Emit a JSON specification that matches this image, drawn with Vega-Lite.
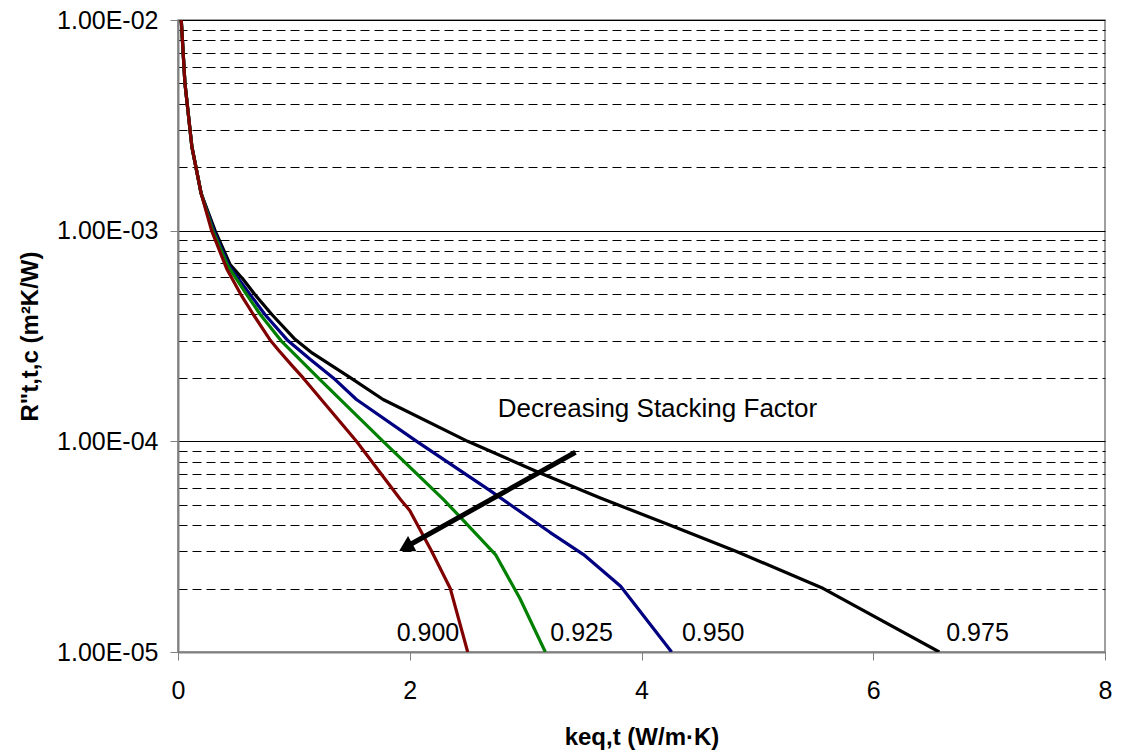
{
  "$schema": "https://vega.github.io/schema/vega-lite/v6.json",
  "width": 927,
  "height": 632,
  "autosize": {"type": "none"},
  "padding": {"left": 178, "top": 20, "right": 20, "bottom": 103},
  "background": "white",
  "config": {
    "font": "Liberation Sans",
    "view": {"stroke": "#808080", "strokeWidth": 1.5}
  },
  "datasets": {
    "curves": [
      {"series": "0.975", "k": 0.028, "R": 0.01},
      {"series": "0.975", "k": 0.06, "R": 0.005},
      {"series": "0.975", "k": 0.12, "R": 0.0025},
      {"series": "0.975", "k": 0.2, "R": 0.0015},
      {"series": "0.975", "k": 0.32, "R": 0.001},
      {"series": "0.975", "k": 0.45, "R": 0.00069},
      {"series": "0.975", "k": 0.56, "R": 0.00059},
      {"series": "0.975", "k": 0.66, "R": 0.0005},
      {"series": "0.975", "k": 0.81, "R": 0.0004},
      {"series": "0.975", "k": 1.01, "R": 0.000305},
      {"series": "0.975", "k": 1.16, "R": 0.000262},
      {"series": "0.975", "k": 1.49, "R": 0.0002},
      {"series": "0.975", "k": 1.77, "R": 0.000158},
      {"series": "0.975", "k": 2.5, "R": 0.0001},
      {"series": "0.975", "k": 3.12, "R": 0.000071},
      {"series": "0.975", "k": 3.64, "R": 0.000054},
      {"series": "0.975", "k": 4.27, "R": 0.0000395},
      {"series": "0.975", "k": 4.82, "R": 0.00003},
      {"series": "0.975", "k": 5.57, "R": 0.00002},
      {"series": "0.975", "k": 6.57, "R": 0.00001},
      {"series": "0.950", "k": 0.028, "R": 0.01},
      {"series": "0.950", "k": 0.06, "R": 0.005},
      {"series": "0.950", "k": 0.12, "R": 0.0025},
      {"series": "0.950", "k": 0.2, "R": 0.0015},
      {"series": "0.950", "k": 0.31, "R": 0.001},
      {"series": "0.950", "k": 0.44, "R": 0.00068},
      {"series": "0.950", "k": 0.62, "R": 0.0005},
      {"series": "0.950", "k": 0.75, "R": 0.0004},
      {"series": "0.950", "k": 0.95, "R": 0.0003},
      {"series": "0.950", "k": 1.14, "R": 0.000245},
      {"series": "0.950", "k": 1.34, "R": 0.0002},
      {"series": "0.950", "k": 1.54, "R": 0.000158},
      {"series": "0.950", "k": 2.06, "R": 0.0001},
      {"series": "0.950", "k": 2.7, "R": 0.000058},
      {"series": "0.950", "k": 3.21, "R": 0.000037},
      {"series": "0.950", "k": 3.5, "R": 0.000029},
      {"series": "0.950", "k": 3.82, "R": 0.0000205},
      {"series": "0.950", "k": 4.26, "R": 0.00001},
      {"series": "0.925", "k": 0.028, "R": 0.01},
      {"series": "0.925", "k": 0.06, "R": 0.005},
      {"series": "0.925", "k": 0.12, "R": 0.0025},
      {"series": "0.925", "k": 0.2, "R": 0.0015},
      {"series": "0.925", "k": 0.3, "R": 0.001},
      {"series": "0.925", "k": 0.43, "R": 0.00068},
      {"series": "0.925", "k": 0.59, "R": 0.0005},
      {"series": "0.925", "k": 0.71, "R": 0.0004},
      {"series": "0.925", "k": 0.89, "R": 0.0003},
      {"series": "0.925", "k": 1.21, "R": 0.0002},
      {"series": "0.925", "k": 1.77, "R": 0.0001},
      {"series": "0.925", "k": 2.29, "R": 0.000053},
      {"series": "0.925", "k": 2.43, "R": 0.000044},
      {"series": "0.925", "k": 2.74, "R": 0.000029},
      {"series": "0.925", "k": 2.95, "R": 0.000018},
      {"series": "0.925", "k": 3.17, "R": 0.00001},
      {"series": "0.900", "k": 0.028, "R": 0.01},
      {"series": "0.900", "k": 0.06, "R": 0.005},
      {"series": "0.900", "k": 0.12, "R": 0.0025},
      {"series": "0.900", "k": 0.2, "R": 0.0015},
      {"series": "0.900", "k": 0.29, "R": 0.001},
      {"series": "0.900", "k": 0.42, "R": 0.00066},
      {"series": "0.900", "k": 0.54, "R": 0.0005},
      {"series": "0.900", "k": 0.65, "R": 0.0004},
      {"series": "0.900", "k": 0.8, "R": 0.0003},
      {"series": "0.900", "k": 0.87, "R": 0.00027},
      {"series": "0.900", "k": 0.99, "R": 0.000227},
      {"series": "0.900", "k": 1.08, "R": 0.0002},
      {"series": "0.900", "k": 1.54, "R": 0.0001},
      {"series": "0.900", "k": 1.92, "R": 0.000053},
      {"series": "0.900", "k": 2.0, "R": 0.000047},
      {"series": "0.900", "k": 2.19, "R": 0.00003},
      {"series": "0.900", "k": 2.35, "R": 0.00002},
      {"series": "0.900", "k": 2.5, "R": 0.00001}
    ],
    "labels": [
      {"text": "0.900", "k": 2.157, "R": 0.0000113},
      {"text": "0.925", "k": 3.483, "R": 0.0000113},
      {"text": "0.950", "k": 4.619, "R": 0.0000113},
      {"text": "0.975", "k": 6.9, "R": 0.0000113}
    ],
    "note": [
      {"text": "Decreasing Stacking Factor", "k": 2.76, "R": 0.000131}
    ],
    "arrow": [
      {"k": 3.43, "R": 0.0000887},
      {"k": 1.97, "R": 0.0000316}
    ],
    "arrowhead": [
      {"k": 1.965, "R": 0.0000314}
    ]
  },
  "layer": [
    {
      "data": {"name": "curves"},
      "mark": {"type": "line", "strokeWidth": 3.2, "strokeJoin": "round", "clip": true},
      "encoding": {
        "x": {
          "field": "k",
          "type": "quantitative",
          "scale": {"domain": [0, 8], "nice": false},
          "axis": {
            "values": [0, 2, 4, 6, 8],
            "format": "d",
            "grid": false,
            "tickSize": 8,
            "tickColor": "#808080",
            "domainColor": "#808080",
            "domainWidth": 2,
            "labelFontSize": 25,
            "labelColor": "black",
            "labelPadding": 18,
            "labelFlush": false,
            "title": "keq,t (W/m·K)",
            "titleFontSize": 24,
            "titleFontWeight": "bold",
            "titleColor": "black",
            "titlePadding": 22
          }
        },
        "y": {
          "field": "R",
          "type": "quantitative",
          "scale": {"type": "log", "domain": [0.00001, 0.01], "nice": false},
          "axis": {
            "values": [0.00001, 0.00002, 0.00003, 0.00004, 0.00005, 0.00006, 0.00007, 0.00008, 0.00009, 0.0001, 0.0002, 0.0003, 0.0004, 0.0005, 0.0006, 0.0007, 0.0008, 0.0009, 0.001, 0.002, 0.003, 0.004, 0.005, 0.006, 0.007, 0.008, 0.009, 0.01],
            "labelExpr": "abs(log(datum.value)/LN10 - round(log(datum.value)/LN10)) < 0.01 ? '1.00E-0' + (-round(log(datum.value)/LN10)) : ''",
            "labelOverlap": false,
            "labelFontSize": 25,
            "labelColor": "black",
            "labelPadding": 12,
            "tickSize": 8,
            "tickColor": "#808080",
            "tickOpacity": {"condition": {"test": "abs(log(datum.value)/LN10 - round(log(datum.value)/LN10)) < 0.01", "value": 1}, "value": 0},
            "grid": true,
            "gridColor": "black",
            "gridWidth": 1,
            "gridOpacity": 1,
            "gridDash": {"condition": {"test": "abs(log(datum.value)/LN10 - round(log(datum.value)/LN10)) < 0.01", "value": []}, "value": [9, 5]},
            "domainColor": "#808080",
            "domainWidth": 2,
            "title": "R\"t,t,c (m²K/W)",
            "titleFontSize": 24,
            "titleFontWeight": "bold",
            "titleColor": "black",
            "titlePadding": 14
          }
        },
        "color": {
          "field": "series",
          "type": "nominal",
          "scale": {"domain": ["0.975", "0.950", "0.925", "0.900"], "range": ["#000000", "#000080", "#008000", "#800000"]},
          "legend": null
        }
      }
    },
    {
      "data": {"name": "labels"},
      "mark": {"type": "text", "fontSize": 25, "align": "center", "baseline": "alphabetic", "color": "black"},
      "encoding": {
        "x": {"field": "k", "type": "quantitative"},
        "y": {"field": "R", "type": "quantitative"},
        "text": {"field": "text"}
      }
    },
    {
      "data": {"name": "note"},
      "mark": {"type": "text", "fontSize": 26, "align": "left", "baseline": "alphabetic", "color": "black"},
      "encoding": {
        "x": {"field": "k", "type": "quantitative"},
        "y": {"field": "R", "type": "quantitative"},
        "text": {"field": "text"}
      }
    },
    {
      "data": {"name": "arrow"},
      "mark": {"type": "line", "strokeWidth": 5, "color": "black"},
      "encoding": {
        "x": {"field": "k", "type": "quantitative"},
        "y": {"field": "R", "type": "quantitative"}
      }
    },
    {
      "data": {"name": "arrowhead"},
      "mark": {"type": "point", "shape": "triangle-up", "size": 300, "angle": 241, "filled": true, "color": "black", "opacity": 1},
      "encoding": {
        "x": {"field": "k", "type": "quantitative"},
        "y": {"field": "R", "type": "quantitative"}
      }
    }
  ]
}
